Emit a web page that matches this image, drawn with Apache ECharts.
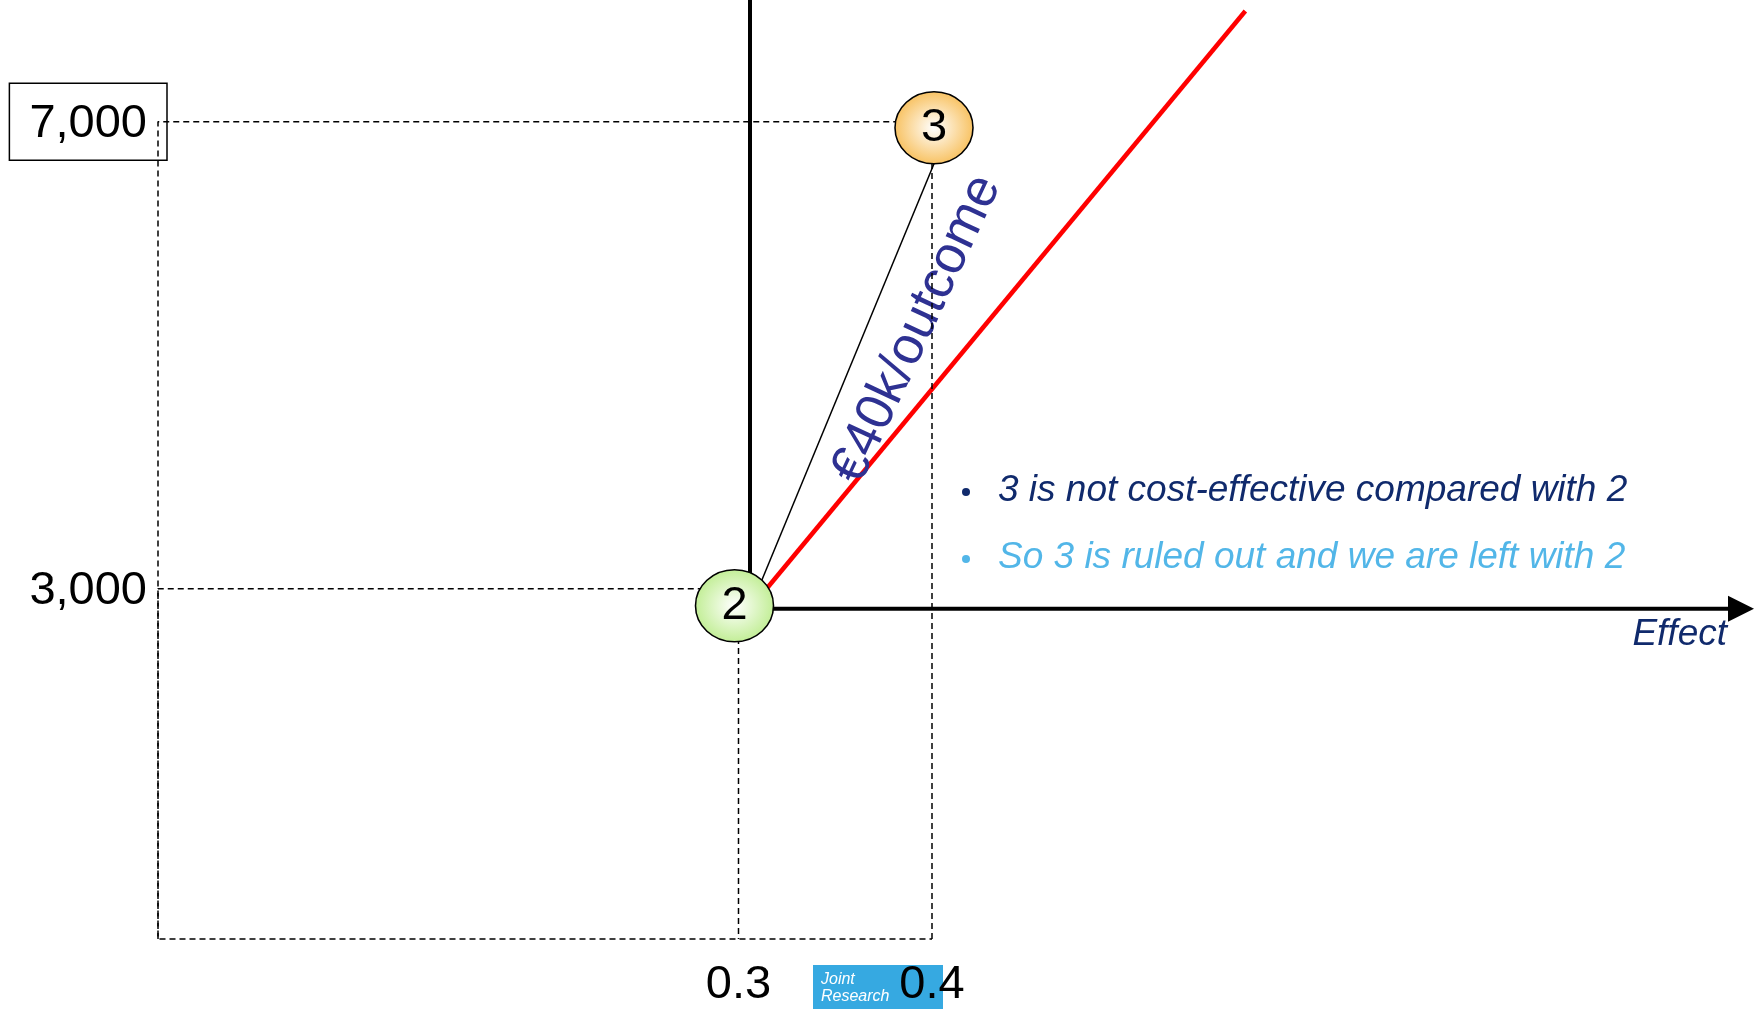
<!DOCTYPE html>
<html>
<head>
<meta charset="utf-8">
<title>Cost-effectiveness plane</title>
<script src="https://cdn.jsdelivr.net/npm/echarts@6/dist/echarts.min.js"></script>
<style>
  html, body { margin: 0; padding: 0; background: #ffffff; }
  #chart { width: 1761px; height: 1009px; }
</style>
</head>
<body>
<div id="chart"></div>
<script>
// Programmes compared on the cost-effectiveness plane
const programmes = ['2', '3'];
const effects = [0.3, 0.4];          // effect (outcomes)
const costs = [3000, 7000];          // cost (€)
const xTickLabels = ['0.3', '0.4'];
const yTickLabels = ['3,000', '7,000'];
const icerLabel = '€40k/outcome';    // incremental cost per outcome of 3 vs 2
const threshold = 20000;             // willingness-to-pay line (€ per outcome)
const notes = [
  '3 is not cost-effective compared with 2',
  'So 3 is ruled out and we are left with 2'
];
const axisTitle = 'Effect';

const FONT = '"Liberation Sans", Arial, Helvetica, sans-serif';
const NAVY = '#102a6c';
const SKY = '#52b6e8';

const chart = echarts.init(document.getElementById('chart'), null, { renderer: 'canvas' });

function idxOf(arr, v) {
  return arr.findIndex(a => Math.abs(a - v) < 1e-9);
}

const bubbleColours = ['#c2ee96', '#f8c262'];
const bubbleShift = [[-4, 17], [2, 6]];

chart.setOption({
  animation: false,
  backgroundColor: '#ffffff',
  grid: { left: 158, right: 55, top: 5, bottom: 68 },
  xAxis: {
    type: 'value', min: 0, max: 0.8, z: 10,
    axisLine: { show: false }, axisTick: { show: false }, splitLine: { show: false },
    axisLabel: {
      customValues: effects,
      formatter: v => xTickLabels[idxOf(effects, v)] || '',
      fontFamily: FONT, fontSize: 47, color: '#000', margin: 23
    }
  },
  yAxis: {
    type: 'value', min: 0, max: 8000, z: 10,
    axisLine: { show: false }, axisTick: { show: false }, splitLine: { show: false },
    axisLabel: {
      customValues: costs,
      margin: -9,
      formatter: v => {
        const i = idxOf(costs, v);
        if (i < 0) return '';
        return (i === costs.length - 1 ? '{box|' : '{plain|') + yTickLabels[i] + '}';
      },
      rich: {
        box: {
          fontFamily: FONT, fontSize: 47, color: '#000', lineHeight: 54,
          borderColor: '#000', borderWidth: 1.5, padding: [17, 20, 13, 20]
        },
        plain: {
          fontFamily: FONT, fontSize: 47, color: '#000', lineHeight: 54,
          padding: [17, 20, 13, 20]
        }
      }
    }
  },
  series: [
    {
      // drop lines framing programme 3
      type: 'line', clip: false, silent: true, symbol: 'none', z: 3,
      data: [[effects[1], 0], [effects[1], costs[1]], [0, costs[1]], [0, 0], [effects[1], 0]],
      lineStyle: { color: '#000', width: 1.5, type: [6, 4] }
    },
    {
      // drop lines for programme 2
      type: 'line', clip: false, silent: true, symbol: 'none', z: 3,
      data: [[effects[0], 0], [effects[0], costs[0]], [0, costs[0]], [0, 0]],
      lineStyle: { color: '#000', width: 1.5, type: [6, 4], dashOffset: 5 }
    },
    {
      type: 'scatter', clip: false, silent: true, z: 10,
      symbol: 'circle', symbolSize: [78, 72],
      data: programmes.map((p, i) => ({
        name: p,
        value: [effects[i], costs[i]],
        symbolOffset: bubbleShift[i],
        itemStyle: {
          color: {
            type: 'radial', x: 0.5, y: 0.5, r: 0.5,
            colorStops: [
              { offset: 0, color: '#ffffff' },
              { offset: 1, color: bubbleColours[i] }
            ]
          }
        }
      })),
      itemStyle: { borderColor: '#000', borderWidth: 1.5, opacity: 1 },
      label: {
        show: true, position: 'inside', formatter: '{b}',
        fontFamily: FONT, fontSize: 47, color: '#000'
      }
    }
  ]
});

// Incremental plane drawn from programme 2, using the chart's own scales
const W = chart.getWidth();
const p2 = chart.convertToPixel({ gridIndex: 0 }, [effects[0], costs[0]]);
const p3 = chart.convertToPixel({ gridIndex: 0 }, [effects[1], costs[1]]);
const origin = [p2[0] + 11.5, p2[1] + 20];
const step = chart.convertToPixel({ gridIndex: 0 }, [effects[0] + 0.1, costs[0] + threshold * 0.1]);
const dir = [step[0] - p2[0], step[1] - p2[1]];
const redTopY = 11;
const t = (redTopY - origin[1]) / dir[1];
const redEnd = [origin[0] + dir[0] * t, redTopY];
const c3Bottom = [p3[0] + bubbleShift[1][0], p3[1] + bubbleShift[1][1] + 36];
const mid = [(origin[0] + c3Bottom[0]) / 2, (origin[1] + c3Bottom[1]) / 2];
const arrowBase = W - 33;

chart.setOption({
  graphic: {
    elements: [
      {
        type: 'line', z: 1, silent: true,
        shape: { x1: origin[0], y1: 0, x2: origin[0], y2: origin[1] + 2 },
        style: { stroke: '#000', lineWidth: 4 }
      },
      {
        type: 'line', z: 1, silent: true,
        shape: { x1: origin[0] - 2, y1: origin[1], x2: arrowBase + 2, y2: origin[1] },
        style: { stroke: '#000', lineWidth: 4 }
      },
      {
        type: 'polygon', z: 1, silent: true,
        shape: { points: [[arrowBase, origin[1] - 13], [W - 7, origin[1]], [arrowBase, origin[1] + 13]] },
        style: { fill: '#000' }
      },
      {
        type: 'line', z: 1, silent: true,
        shape: { x1: origin[0], y1: origin[1], x2: redEnd[0], y2: redEnd[1] },
        style: { stroke: '#ff0000', lineWidth: 4.5 }
      },
      {
        type: 'line', z: 1, silent: true,
        shape: { x1: origin[0], y1: origin[1], x2: c3Bottom[0], y2: c3Bottom[1] },
        style: { stroke: '#000', lineWidth: 1.5 }
      },
      {
        type: 'text', z: 2, silent: true,
        x: mid[0] + 75, y: mid[1] - 57,
        rotation: 65 * Math.PI / 180,
        style: {
          text: icerLabel, fontFamily: FONT, fontSize: 53, fill: '#2e3192',
          align: 'center', verticalAlign: 'middle'
        }
      },
      {
        type: 'circle', z: 2, silent: true,
        shape: { cx: 966, cy: 492, r: 4 }, style: { fill: NAVY }
      },
      {
        type: 'text', z: 2, silent: true, x: 998, y: 491,
        style: {
          text: notes[0], fontFamily: FONT, fontSize: 37, fontStyle: 'italic',
          fill: NAVY, align: 'left', verticalAlign: 'middle'
        }
      },
      {
        type: 'circle', z: 2, silent: true,
        shape: { cx: 966, cy: 559, r: 4 }, style: { fill: SKY }
      },
      {
        type: 'text', z: 2, silent: true, x: 998, y: 558,
        style: {
          text: notes[1], fontFamily: FONT, fontSize: 37, fontStyle: 'italic',
          fill: SKY, align: 'left', verticalAlign: 'middle'
        }
      },
      {
        type: 'text', z: 2, silent: true, x: 1727, y: 635,
        style: {
          text: axisTitle, fontFamily: FONT, fontSize: 37, fontStyle: 'italic',
          fill: NAVY, align: 'right', verticalAlign: 'middle'
        }
      },
      {
        type: 'rect', z: 0, silent: true,
        shape: { x: 813, y: 965, width: 130, height: 44 },
        style: { fill: '#36a9e1' }
      },
      {
        type: 'text', z: 0, silent: true, x: 821, y: 980,
        style: {
          text: 'Joint', fontFamily: FONT, fontSize: 16, fontStyle: 'italic',
          fill: '#ffffff', align: 'left', verticalAlign: 'middle'
        }
      },
      {
        type: 'text', z: 0, silent: true, x: 821, y: 997,
        style: {
          text: 'Research', fontFamily: FONT, fontSize: 16, fontStyle: 'italic',
          fill: '#ffffff', align: 'left', verticalAlign: 'middle'
        }
      }
    ]
  }
});
</script>
</body>
</html>
